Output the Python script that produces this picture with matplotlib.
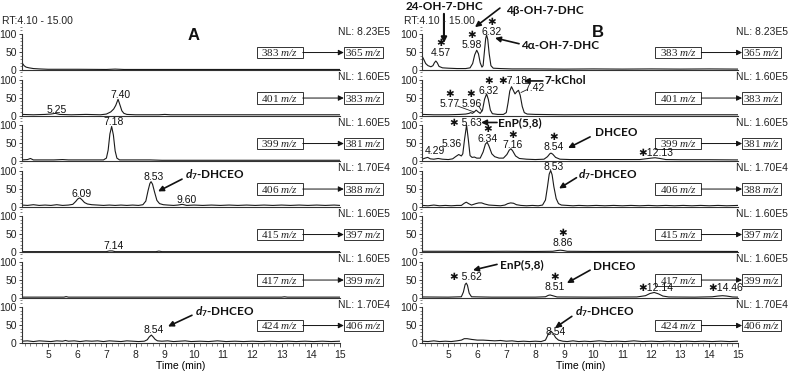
import matplotlib
matplotlib.use('Agg')
import matplotlib.pyplot as plt
import matplotlib.transforms as mtransforms
from matplotlib.patches import Rectangle
from matplotlib.ticker import MultipleLocator

plt.rcParams['font.family'] = ['Liberation Sans', 'DejaVu Sans']
plt.rcParams['mathtext.fontset'] = 'custom'
plt.rcParams['mathtext.sf'] = 'Liberation Serif:italic'
plt.rcParams['mathtext.rm'] = 'Liberation Serif'
plt.rcParams['mathtext.it'] = 'Lato:bold:italic'
plt.rcParams['mathtext.bf'] = 'Lato:bold'

# ---- data: precursor -> product transitions and normalisation levels ----
precursors = [383, 401, 399, 406, 415, 417, 424]
products = [365, 383, 381, 388, 397, 399, 406]
nl_levels = ['8.23E5', '1.60E5', '1.60E5', '1.70E4', '1.60E5', '1.60E5', '1.70E4']

# ---- panel A traces (time min, relative abundance %) ----
a_383 = [(4.1, 22), (4.13, 18), (4.18, 12), (4.25, 8), (4.35, 6), (4.5, 4), (4.7, 3), (5.0, 2),
         (6.0, 2), (7.0, 1.5), (7.3, 2.5), (7.6, 1.5), (9, 1.5), (12, 1.5), (15, 1.5)]
a_401 = [(4.1, 3), (4.5, 2), (4.9, 3), (5.1, 4), (5.25, 6), (5.4, 3), (5.8, 2), (6.3, 3), (6.8, 2),
         (7.0, 4), (7.15, 10), (7.25, 18), (7.32, 28), (7.40, 45), (7.47, 28), (7.53, 13), (7.6, 6),
         (7.7, 3), (8.0, 2), (8.8, 2), (9.0, 3), (9.2, 2), (15, 2)]
a_399 = [(4.1, 3), (4.3, 4), (4.4, 7), (4.5, 3), (5.2, 3), (5.5, 4), (5.7, 3), (6.5, 3), (6.9, 3),
         (7.0, 8), (7.06, 30), (7.12, 75), (7.18, 96), (7.24, 72), (7.3, 28), (7.36, 8), (7.45, 3),
         (8.5, 3), (8.9, 2), (15, 2)]
a_406 = [(4.1, 4), (4.3, 3), (4.5, 5), (4.7, 3), (4.9, 4), (5.1, 3), (5.3, 5), (5.5, 3), (5.7, 4),
         (5.85, 6), (5.95, 14), (6.02, 21), (6.09, 24), (6.16, 19), (6.25, 11), (6.35, 7), (6.5, 5),
         (6.7, 4), (6.9, 3), (7.1, 4), (7.3, 3), (7.5, 4), (7.7, 3), (7.9, 4), (8.1, 3), (8.25, 5),
         (8.35, 15), (8.43, 45), (8.49, 64), (8.53, 69), (8.58, 62), (8.65, 40), (8.73, 17), (8.82, 8),
         (8.95, 5), (9.1, 4), (9.3, 3), (9.45, 4), (9.6, 6), (9.75, 3), (10, 4), (10.3, 3), (10.6, 4),
         (10.9, 3), (11.2, 4), (11.5, 3), (11.8, 4), (12.1, 3), (12.4, 4), (12.7, 3), (13.0, 4),
         (13.3, 3), (13.6, 4), (13.9, 3), (14.2, 4), (14.5, 3), (14.8, 4), (15, 3)]
a_415 = [(4.1, 1), (7.0, 1), (7.1, 3), (7.2, 3), (7.3, 1), (8.7, 1), (8.8, 2.5), (8.9, 1), (15, 1)]
a_417 = [(4.1, 1), (5.55, 1), (5.62, 2.5), (5.7, 1), (13.0, 1), (13.1, 2), (13.2, 1), (15, 1)]
a_424 = [(4.1, 5), (4.3, 6), (4.5, 4), (4.7, 6), (4.9, 5), (5.1, 4), (5.3, 6), (5.5, 5), (5.6, 7),
         (5.7, 5), (5.9, 6), (6.1, 4), (6.3, 6), (6.5, 5), (6.7, 6), (6.9, 4), (7.1, 6), (7.3, 5),
         (7.5, 4), (7.7, 6), (7.9, 5), (8.1, 4), (8.3, 5), (8.4, 9), (8.47, 17), (8.54, 22), (8.6, 17),
         (8.67, 10), (8.75, 6), (8.9, 5), (9.1, 6), (9.3, 4), (9.5, 5), (9.7, 6), (9.9, 4), (10.2, 5),
         (10.5, 4), (10.8, 6), (11.1, 4), (11.4, 5), (11.7, 4), (12.0, 5), (12.3, 4), (12.6, 5),
         (12.9, 4), (13.2, 5), (13.5, 4), (13.8, 5), (14.1, 4), (14.4, 5), (14.7, 4), (15, 5)]

# ---- panel B traces ----
b_383 = [(4.1, 38), (4.15, 30), (4.22, 18), (4.3, 12), (4.4, 9), (4.47, 12), (4.52, 20), (4.57, 25),
         (4.62, 20), (4.68, 10), (4.8, 6), (5.0, 5), (5.3, 4), (5.6, 4), (5.75, 6), (5.84, 18),
         (5.91, 42), (5.98, 55), (6.04, 45), (6.1, 20), (6.16, 8), (6.2, 12), (6.25, 55), (6.29, 88),
         (6.32, 97), (6.36, 85), (6.41, 45), (6.47, 12), (6.55, 5), (6.8, 4), (7.2, 3), (8, 3),
         (9, 2.5), (10, 3), (11, 2.5), (12, 3), (13, 2.5), (14, 3), (15, 2.5)]
b_401 = [(4.1, 3), (4.5, 2), (5.0, 2), (5.4, 3), (5.6, 4), (5.72, 6), (5.77, 8), (5.83, 6), (5.9, 10),
         (5.96, 15), (6.03, 10), (6.1, 6), (6.18, 15), (6.25, 45), (6.32, 60), (6.38, 45), (6.45, 15),
         (6.52, 5), (6.7, 3), (6.9, 3), (7.0, 8), (7.06, 35), (7.12, 68), (7.18, 80), (7.24, 70),
         (7.3, 60), (7.36, 66), (7.42, 70), (7.48, 56), (7.55, 25), (7.62, 8), (7.72, 4), (8, 3),
         (9, 2), (10, 2.5), (12, 2), (15, 2)]
b_399 = [(4.1, 5), (4.2, 8), (4.29, 10), (4.38, 6), (4.5, 5), (4.65, 7), (4.8, 5), (5.0, 4),
         (5.15, 6), (5.25, 12), (5.36, 18), (5.45, 14), (5.5, 20), (5.56, 60), (5.63, 100), (5.69, 60),
         (5.75, 15), (5.82, 10), (5.9, 11), (5.98, 8), (6.1, 8), (6.2, 25), (6.28, 47), (6.34, 52),
         (6.4, 42), (6.5, 20), (6.6, 12), (6.75, 8), (6.9, 8), (7.02, 18), (7.1, 30), (7.16, 34),
         (7.22, 28), (7.32, 14), (7.45, 7), (7.7, 5), (8.0, 4), (8.3, 5), (8.42, 12), (8.5, 20),
         (8.54, 22), (8.6, 19), (8.7, 10), (8.85, 5), (9.2, 4), (10, 4), (11, 4), (11.6, 4), (11.8, 6),
         (12.0, 8), (12.13, 9), (12.3, 7), (12.5, 4), (13, 3.5), (14, 3.5), (15, 3)]
b_406 = [(4.1, 3), (4.3, 2), (4.5, 4), (4.7, 2), (4.9, 3), (5.1, 2), (5.3, 3), (5.45, 3), (5.55, 9),
         (5.62, 12), (5.7, 8), (5.8, 4), (5.95, 8), (6.05, 10), (6.15, 10), (6.25, 7), (6.4, 4),
         (6.6, 3), (6.8, 2), (6.95, 4), (7.05, 8), (7.15, 10), (7.25, 9), (7.35, 5), (7.5, 3), (7.7, 2),
         (7.9, 3), (8.1, 2), (8.25, 4), (8.35, 18), (8.42, 55), (8.48, 90), (8.53, 100), (8.58, 88),
         (8.64, 55), (8.72, 22), (8.8, 8), (8.9, 4), (9.1, 3), (9.3, 2), (9.5, 3), (9.8, 2), (10.1, 3),
         (10.4, 2), (10.7, 3), (11.0, 2), (11.3, 3), (11.6, 2), (11.9, 3), (12.2, 2), (12.5, 3),
         (12.8, 2), (13.1, 3), (13.4, 2), (13.7, 3), (14.0, 2), (14.3, 3), (14.6, 2), (15, 3)]
b_415 = [(4.1, 2), (5.0, 2), (6.0, 1.5), (7.0, 2), (8.0, 1.5), (8.6, 2), (8.75, 4), (8.86, 5),
         (8.97, 4), (9.1, 2), (10, 1.5), (12, 2), (15, 1.5)]
b_417 = [(4.1, 1.5), (5.0, 1), (5.45, 2), (5.52, 15), (5.58, 36), (5.62, 40), (5.66, 34), (5.72, 12),
         (5.8, 2), (6.5, 1), (8.0, 1), (8.35, 2), (8.45, 6), (8.51, 7), (8.6, 5), (8.75, 1.5), (10, 1),
         (11.5, 1.5), (11.8, 5), (11.95, 11), (12.1, 14), (12.25, 10), (12.4, 4), (12.6, 1.5),
         (13.5, 1), (14.1, 2), (14.3, 4), (14.46, 5), (14.6, 4), (14.8, 1.5), (15, 1)]
b_424 = [(4.1, 5), (4.3, 4), (4.5, 6), (4.7, 4), (4.9, 5), (5.1, 4), (5.3, 6), (5.45, 8), (5.55, 12),
         (5.65, 12), (5.8, 10), (6.0, 8), (6.2, 8), (6.4, 7), (6.6, 6), (6.8, 7), (7.0, 5), (7.2, 6),
         (7.4, 4), (7.6, 5), (7.8, 4), (8.0, 5), (8.2, 4), (8.35, 8), (8.45, 25), (8.54, 33),
         (8.62, 26), (8.7, 15), (8.8, 8), (8.95, 5), (9.1, 4), (9.3, 6), (9.5, 4), (9.7, 5), (9.9, 4),
         (10.2, 6), (10.5, 4), (10.8, 5), (11.1, 4), (11.4, 6), (11.7, 4), (12.0, 5), (12.3, 4),
         (12.6, 5), (12.9, 4), (13.2, 5), (13.5, 4), (13.8, 5), (14.1, 4), (14.4, 5), (14.7, 4), (15, 5)]

traces_a = [a_383, a_401, a_399, a_406, a_415, a_417, a_424]
traces_b = [b_383, b_401, b_399, b_406, b_415, b_417, b_424]

# ---- layout (pixels) ----
W, H = 797, 375
baselines = [70, 115.5, 161, 206.5, 252, 297.5, 343]
PXU = 0.36  # pixels per % unit

fig = plt.figure(figsize=(W / 100, H / 100), dpi=100)
fig.patch.set_facecolor('white')

LINE = '#1a1a1a'
SMALL = 7.5
BOLD_FONT = ['Lato', 'DejaVu Sans']
STAR = '\u2731'


def make_row(x0, x1, base, bottom):
    ax = fig.add_axes([x0 / W, 1 - (base + 3 * PXU) / H, (x1 - x0) / W, 128 * PXU / H])
    ax.patch.set_alpha(0)
    ax.set_xlim(4.1, 15)
    ax.set_ylim(-3, 125)
    ax.spines['top'].set_visible(False)
    ax.spines['right'].set_visible(False)
    ax.spines['left'].set_bounds(0, 100)
    ax.spines['bottom'].set_position(('data', 0))
    for s in ['left', 'bottom']:
        ax.spines[s].set_linewidth(0.8)
        ax.spines[s].set_color('#333333')
    ax.set_yticks([0, 50, 100])
    ax.yaxis.set_minor_locator(MultipleLocator(10))
    ax.tick_params(axis='y', which='major', length=2.5, width=0.6, pad=1, labelsize=SMALL,
                   colors='#222222')
    ax.tick_params(axis='y', which='minor', length=1.5, width=0.5, color='#555555')
    if bottom:
        ax.set_xticks(range(5, 16))
        ax.xaxis.set_minor_locator(MultipleLocator(0.2))
        ax.tick_params(axis='x', which='major', length=3, width=0.6, pad=2, labelsize=SMALL,
                       colors='#222222')
        ax.tick_params(axis='x', which='minor', length=1.8, width=0.5, color='#555555')
        ax.set_xlabel('Time (min)', fontsize=SMALL, labelpad=1)
    else:
        ax.set_xticks([])
    return ax


def txt(ax, t, y, s, **kw):
    opts = dict(ha='center', va='center', fontsize=SMALL, clip_on=False, color='#111111')
    opts.update(kw)
    ax.text(t, y, s, **opts)


def starred(ax, t, y, s):
    # asterisk stacked above the retention-time label; y is the label centre
    ax.text(t, y - 14, STAR + '\n' + s, ha='center', va='bottom', fontsize=SMALL,
            linespacing=1.0, clip_on=False, color='#111111')


def name(ax, t, y, s, ha='left'):
    ax.text(t, y, s, ha=ha, va='center', fontsize=8.5, fontweight='bold', family=BOLD_FONT,
            clip_on=False, color='#111111')


def arrow(ax, start, end, lw=1.2):
    ax.annotate('', xy=end, xytext=start, annotation_clip=False,
                arrowprops=dict(arrowstyle='-|>', color='#111111', lw=lw, mutation_scale=8,
                                shrinkA=0, shrinkB=0))


def leader(ax, start, end):
    ax.plot([start[0], end[0]], [start[1], end[1]], color='#222222', lw=0.6, clip_on=False)


panels = [(21.7, 340.0, traces_a), (422.2, 738.3, traces_b)]
axes = {}
for p, (x0, x1, traces) in enumerate(panels):
    for i, base in enumerate(baselines):
        ax = make_row(x0, x1, base, i == len(baselines) - 1)
        t, y = zip(*traces[i])
        ax.plot(t, y, color=LINE, lw=0.8)
        axes[(p, i)] = ax
        blend = mtransforms.blended_transform_factory(ax.transAxes, ax.transData)
        # normalisation level
        ax.text(1.158, 106, 'NL: ' + nl_levels[i], transform=blend, ha='right', va='center',
                fontsize=SMALL, color='#222222')
        # transition boxes
        bx0, bw = 0.738, 0.145
        cx0, cw = 1.012, 0.123
        for xx, ww, lab in [(bx0, bw, precursors[i]), (cx0, cw, products[i])]:
            ax.add_patch(Rectangle((xx, 33), ww, 31, transform=blend, fill=False,
                                   lw=0.7, ec='#333333', clip_on=False))
            ax.text(xx + ww / 2, 48.5, f'{lab} $\\mathsf{{m/z}}$', transform=blend,
                    ha='center', va='center', fontsize=8, family='Liberation Serif',
                    color='#222222')
        ax.annotate('', xy=(cx0, 48.5), xytext=(bx0 + bw, 48.5), xycoords=blend,
                    textcoords=blend, annotation_clip=False,
                    arrowprops=dict(arrowstyle='-|>', color='#111111', lw=0.7,
                                    mutation_scale=8, shrinkA=0, shrinkB=0))

# top texts
fig.text(2 / W, 1 - 21 / H, 'RT:4.10 - 15.00', fontsize=SMALL, va='center', color='#222222')
fig.text(404 / W, 1 - 21 / H, 'RT:4.10 - 15.00', fontsize=SMALL, va='center', color='#222222')
txt(axes[(0, 0)], 9.97, 97, 'A', fontsize=12, fontweight='bold')
txt(axes[(1, 0)], 10.16, 103, 'B', fontsize=12, fontweight='bold')

D7 = '$\\mathit{d}_{\\mathbf{7}}$-DHCEO'

# ---- panel A annotations ----
ax = axes[(0, 1)]
txt(ax, 5.31, 15, '5.25')
txt(ax, 7.5, 57, '7.40')
ax = axes[(0, 2)]
txt(ax, 7.26, 108, '7.18')
ax = axes[(0, 3)]
txt(ax, 6.16, 34, '6.09')
txt(ax, 8.63, 82, '8.53')
txt(ax, 9.76, 17, '9.60')
name(ax, 9.69, 88, D7)
arrow(ax, (9.59, 76), (8.77, 42))
ax = axes[(0, 4)]
txt(ax, 7.23, 17, '7.14')
ax = axes[(0, 6)]
txt(ax, 8.63, 36, '8.54')
name(ax, 10.03, 86, D7)
arrow(ax, (9.93, 77), (9.11, 46))

# ---- panel B annotations ----
ax = axes[(1, 0)]
name(ax, 4.85, 175, '24-OH-7-DHC', ha='center')
arrow(ax, (4.85, 156), (4.85, 75), lw=1.5)
starred(ax, 4.74, 47, '4.57')
name(ax, 8.33, 164, '4β-OH-7-DHC', ha='center')
arrow(ax, (6.78, 172), (5.92, 119))
starred(ax, 5.82, 69, '5.98')
starred(ax, 6.51, 106, '6.32')
name(ax, 7.51, 67, '4α-OH-7-DHC')
arrow(ax, (7.44, 73), (6.61, 89))

ax = axes[(1, 1)]
starred(ax, 5.04, 32, '5.77')
leader(ax, (5.33, 26), (5.88, 10))
starred(ax, 5.79, 32, '5.96')
leader(ax, (6.05, 26), (6.16, 12))
starred(ax, 6.39, 68, '6.32')
txt(ax, 7.24, 96, STAR + '7.18')
arrow(ax, (8.26, 96), (7.6, 96))
name(ax, 8.33, 96, '7-kChol')
txt(ax, 7.99, 76, '7.42')
leader(ax, (7.72, 72), (7.51, 64))

ax = axes[(1, 2)]
txt(ax, 5.6, 106, STAR + ' 5.63')
arrow(ax, (6.68, 107), (6.13, 107))
name(ax, 6.71, 107, 'EnP(5,8)')
txt(ax, 4.55, 28, '4.29')
txt(ax, 5.13, 46, '5.36')
starred(ax, 6.37, 62, '6.34')
starred(ax, 7.23, 44, '7.16')
starred(ax, 8.64, 38, '8.54')
name(ax, 10.06, 80, 'DHCEO')
arrow(ax, (9.89, 67), (9.13, 36))
txt(ax, 12.15, 22, STAR + '12.13')

ax = axes[(1, 3)]
txt(ax, 8.64, 110, '8.53')
name(ax, 9.47, 88, D7)
arrow(ax, (9.42, 80), (8.82, 50))

ax = axes[(1, 4)]
starred(ax, 8.96, 25, '8.86')

ax = axes[(1, 5)]
name(ax, 6.78, 90, 'EnP(5,8)')
arrow(ax, (6.68, 92), (5.85, 76))
txt(ax, 5.6, 57, STAR + ' 5.62')
starred(ax, 8.68, 29, '8.51')
name(ax, 9.99, 85, 'DHCEO')
arrow(ax, (9.89, 76), (9.09, 40))
txt(ax, 12.16, 26, STAR + '12.14')
txt(ax, 14.55, 26, STAR + '14.46')

ax = axes[(1, 6)]
name(ax, 9.37, 86, D7)
arrow(ax, (9.26, 74), (8.68, 42))
txt(ax, 8.7, 30, '8.54')

fig.savefig('out.png', dpi=100)
